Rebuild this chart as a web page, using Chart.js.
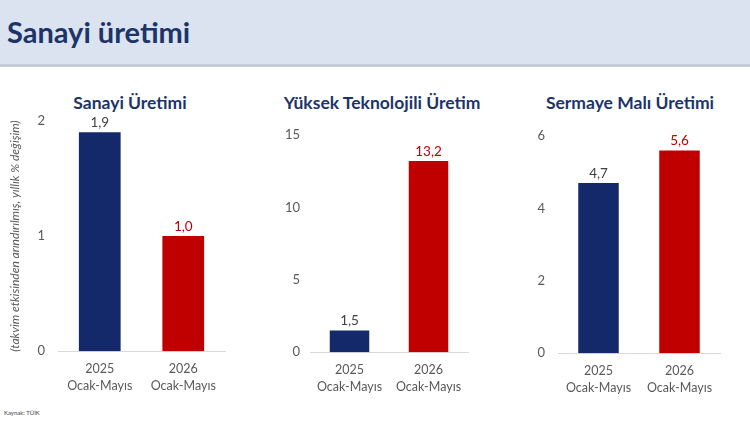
<!DOCTYPE html>
<html>
<head>
<meta charset="utf-8">
<script src="https://cdn.jsdelivr.net/npm/chart.js@4/dist/chart.umd.min.js"></script>
<style>
  body { margin: 0; width: 750px; height: 421px; background: #fff; overflow: hidden; font-family: Lato, "Open Sans", sans-serif; position: relative; }
  #header { position: absolute; left: 0; top: 0; width: 750px; height: 64px; background: #dae3ef; border-bottom: 3px solid #c3ccd8; }
  #header h1 { margin: 0; position: absolute; left: 7px; top: 14px; font-size: 29px; font-weight: bold; color: #1c3468; }
  .box { position: absolute; top: 100px; }
  .ttl { position: absolute; top: 92px; width: 260px; margin-left: -130px; text-align: center; font-size: 17.5px; font-weight: bold; color: #1c3468; }
  #source { position: absolute; left: 4px; top: 409px; font-size: 6px; color: #444; }
</style>
</head>
<body>
<div id="header"><h1>Sanayi üretimi</h1></div>
<div class="ttl" style="left:130px">Sanayi Üretimi</div>
<div class="ttl" style="left:382px">Yüksek Teknolojili Üretim</div>
<div class="ttl" style="left:630px">Sermaye Malı Üretimi</div>
<div class="box" style="left:0;width:235px;height:303px"><canvas id="c1"></canvas></div>
<div class="box" style="left:250px;width:228px;height:304px"><canvas id="c2"></canvas></div>
<div class="box" style="left:500px;width:230px;height:305px"><canvas id="c3"></canvas></div>
<div id="source">Kaynak: TÜİK</div>
<script>
// categories
var periods = [["2025", "Ocak-Mayıs"], ["2026", "Ocak-Mayıs"]];

// values (yıllık % değişim)
var sanayiUretimi = [1.9, 1.0];
var yuksekTekUretim = [1.5, 13.2];
var sermayeMaliUretimi = [4.7, 5.6];

// y ticks
var ticks1 = { max: 2, step: 1 };
var ticks2 = { max: 15, step: 5 };
var ticks3 = { max: 6, step: 2 };

var barColors = ["#13296a", "#c00000"];
var labelColors = ["#404040", "#c00000"];
var fontFam = 'Lato, "Open Sans", sans-serif';

// value labels above bars, comma decimals
var valueLabels = {
    id: 'valueLabels',
    afterDatasetsDraw: function(chart) {
        var ctx = chart.ctx;
        var meta = chart.getDatasetMeta(0);
        ctx.save();
        ctx.font = '13.5px ' + fontFam;
        ctx.textAlign = 'center';
        ctx.textBaseline = 'bottom';
        meta.data.forEach(function(bar, i) {
            var v = chart.data.datasets[0].data[i];
            ctx.fillStyle = labelColors[i];
            ctx.fillText(v.toFixed(1).replace('.', ','), bar.x, bar.y - 3);
        });
        ctx.restore();
    }
};

function makeChart(id, values, t, yTitle, pad, yWidth, tickPad) {
    return new Chart(document.getElementById(id), {
        type: 'bar',
        data: {
            labels: periods,
            datasets: [{
                data: values,
                backgroundColor: barColors,
                barPercentage: 0.5,
                categoryPercentage: 1
            }]
        },
        plugins: [valueLabels],
        options: {
            responsive: true,
            maintainAspectRatio: false,
            animation: false,
            layout: { padding: pad },
            plugins: {
                legend: { display: false },
                tooltip: { enabled: false },
                title: { display: false }
            },
            scales: {
                x: {
                    grid: { display: false, drawTicks: false },
                    border: { color: '#d9d9d9' },
                    ticks: { color: '#595959', autoSkip: false, maxRotation: 0, minRotation: 0,
                             font: { family: fontFam, size: 12.5, lineHeight: 1.35 }, padding: 9 },
                    afterFit: function(s) { s.paddingLeft = 0; s.paddingRight = 0; }
                },
                y: {
                    min: 0,
                    max: t.max,
                    grid: { display: false, drawTicks: false },
                    border: { display: false },
                    ticks: { stepSize: t.step, color: '#595959', font: { family: fontFam, size: 13 }, padding: tickPad },
                    title: {
                        display: !!yTitle,
                        text: yTitle,
                        color: '#595959',
                        font: { family: fontFam, size: 12, style: 'italic' },
                        padding: { top: 8, bottom: 0 }
                    },
                    afterFit: function(s) { s.width = yWidth; }
                }
            }
        }
    });
}

makeChart('c1', sanayiUretimi, ticks1, '(takvim etkisinden arındırılmış, yıllık % değişim)',
    { left: 0, right: 10, top: 20, bottom: 0 }, 58, 13);
makeChart('c2', yuksekTekUretim, ticks2, '',
    { left: 0, right: 10, top: 35, bottom: 0 }, 60, 10);
makeChart('c3', sermayeMaliUretimi, ticks3, '',
    { left: 0, right: 10, top: 36, bottom: 0 }, 58, 13);
</script>
</body>
</html>
